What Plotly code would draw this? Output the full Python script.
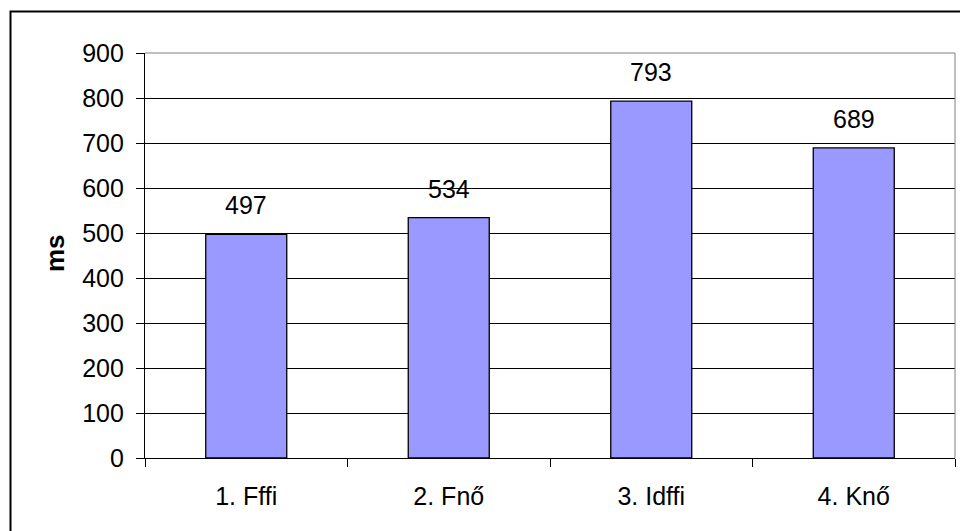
import plotly.graph_objects as go

categories = ["1. Fffi", "2. Fnő", "3. Idffi", "4. Knő"]
values = [497, 534, 793, 689]
y_ticks = [0, 100, 200, 300, 400, 500, 600, 700, 800, 900]

W, H = 960, 531
L, R, T, B = 145, 5, 53, 73
pw = W - L - R
ph = H - T - B
FS = 25
FONT = "Liberation Sans, Arial"

fig = go.Figure()
fig.add_trace(go.Bar(
    x=categories, y=values,
    marker=dict(color="#9999FF", line=dict(color="black", width=1.3)),
    width=0.4,
    hoverinfo="skip",
))

for c, v in zip(categories, values):
    fig.add_annotation(x=c, y=v, text=str(v), showarrow=False, yshift=29,
                       font=dict(family=FONT, size=FS, color="black"))

fig.add_annotation(xref="paper", yref="paper", x=(55 - L) / pw, y=(T + ph - 253) / ph,
                   xanchor="center", yanchor="middle",
                   text="<b>ms</b>", textangle=-90, showarrow=False,
                   font=dict(family=FONT, size=26, color="black"))

# plot area top and right border (gray)
fig.add_shape(type="line", xref="paper", yref="paper", x0=0, x1=1, y0=1, y1=1,
              line=dict(color="#808080", width=1))
fig.add_shape(type="line", xref="paper", yref="paper", x0=1, x1=1, y0=0, y1=1,
              line=dict(color="#808080", width=1))
# outer chart border
fig.add_shape(type="rect", xref="paper", yref="paper",
              x0=(10.5 - L) / pw, x1=(975 - L) / pw,
              y0=(T + ph - 545) / ph, y1=(T + ph - 11.5) / ph,
              line=dict(color="black", width=2), fillcolor="rgba(0,0,0,0)")

fig.update_layout(
    width=W, height=H,
    margin=dict(l=L, r=R, t=T, b=B),
    paper_bgcolor="white", plot_bgcolor="white",
    showlegend=False,
    font=dict(family=FONT, size=FS, color="black"),
    xaxis=dict(
        type="category", showline=True, linecolor="black", linewidth=1.3,
        ticks="outside", tickson="boundaries", ticklen=8, tickcolor="black",
        showgrid=False, tickfont=dict(size=FS), ticklabelstandoff=16,
    ),
    yaxis=dict(
        range=[0, 900], tickvals=y_ticks, showline=True, linecolor="black", linewidth=1.3,
        ticks="outside", ticklen=8, tickcolor="black",
        showgrid=True, gridcolor="black", gridwidth=1, zeroline=False,
        tickfont=dict(size=FS), ticklabelstandoff=7,
    ),
)

fig.write_html("out.html")
